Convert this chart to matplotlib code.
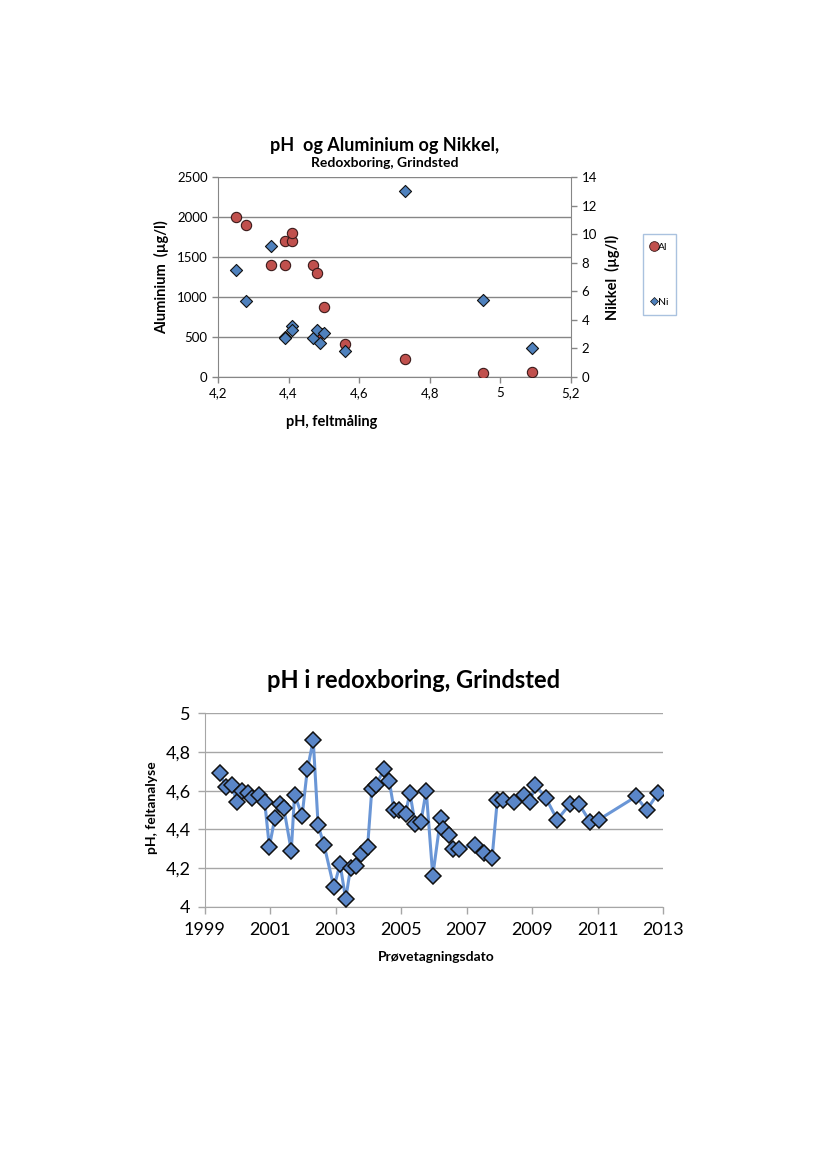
import pandas as pd
import matplotlib
matplotlib.use("Agg")
import matplotlib.pyplot as plt
from matplotlib.ticker import FuncFormatter, MultipleLocator
from matplotlib.lines import Line2D

plt.rcParams['font.family'] = ['Lato', 'DejaVu Sans']

# --- top chart data: pH vs Al / Ni ---
al_ph = [4.25, 4.28, 4.35, 4.39, 4.39, 4.41, 4.41, 4.47, 4.48, 4.49, 4.50, 4.56, 4.73, 4.95, 5.09]
al_val = [2000, 1900, 1400, 1700, 1400, 1700, 1800, 1400, 1300, 550, 870, 410, 230, 50, 60]

ni_ph = [4.25, 4.28, 4.35, 4.39, 4.39, 4.41, 4.41, 4.47, 4.48, 4.49, 4.50, 4.56, 4.73, 4.95, 5.09]
ni_val = [7.5, 5.3, 9.2, 2.8, 2.75, 3.6, 3.3, 2.7, 3.3, 2.4, 3.1, 1.85, 13.0, 5.4, 2.0]

# --- bottom chart data: pH over time ---
dates = [1999.47, 1999.65, 1999.83, 1999.99, 2000.14, 2000.32, 2000.46, 2000.65, 2000.84, 2000.98,
         2001.15, 2001.30, 2001.42, 2001.65, 2001.75, 2001.98, 2002.14, 2002.32, 2002.47, 2002.65,
         2002.95, 2003.14, 2003.31, 2003.46, 2003.63, 2003.78, 2003.98, 2004.11, 2004.24, 2004.48,
         2004.64, 2004.79, 2004.95, 2005.14, 2005.27, 2005.43, 2005.61, 2005.77, 2005.97, 2006.21,
         2006.29, 2006.47, 2006.60, 2006.78, 2007.27, 2007.54, 2007.78, 2007.94, 2008.12, 2008.45,
         2008.77, 2008.94, 2009.10, 2009.43, 2009.77, 2010.16, 2010.44, 2010.77, 2011.04, 2012.18,
         2012.50, 2012.86]
ph = [4.69, 4.62, 4.63, 4.54, 4.60, 4.59, 4.56, 4.58, 4.54, 4.31,
      4.46, 4.53, 4.51, 4.29, 4.58, 4.47, 4.71, 4.86, 4.42, 4.32,
      4.10, 4.22, 4.04, 4.20, 4.21, 4.27, 4.31, 4.61, 4.63, 4.71,
      4.65, 4.50, 4.50, 4.48, 4.59, 4.43, 4.44, 4.60, 4.16, 4.46,
      4.40, 4.37, 4.30, 4.30, 4.32, 4.28, 4.25, 4.55, 4.55, 4.54,
      4.58, 4.54, 4.63, 4.56, 4.45, 4.53, 4.53, 4.44, 4.45, 4.57,
      4.50, 4.59]
year_ticks = [1999, 2001, 2003, 2005, 2007, 2009, 2011, 2013]

comma = FuncFormatter(lambda v, p: ('%g' % v).replace('.', ','))

fig = plt.figure(figsize=(8.27, 11.69), dpi=100)

# ---------------- top chart ----------------
ax = fig.add_axes([218/827, 1-377/1169, 353/827, 200/1169])
ax2 = ax.twinx()

ax.set_xlim(4.2, 5.2)
ax.set_ylim(0, 2500)
ax2.set_ylim(0, 14)
ax.xaxis.set_major_locator(MultipleLocator(0.2))
ax.yaxis.set_major_locator(MultipleLocator(500))
ax2.yaxis.set_major_locator(MultipleLocator(2))
ax.xaxis.set_major_formatter(comma)
ax.grid(axis='y', color='#868686', linewidth=1)
ax.set_axisbelow(True)

for a in (ax, ax2):
    a.spines['top'].set_visible(False)
    a.tick_params(labelsize=9.5, length=4, color='#868686', width=1)
ax.spines['left'].set_color('#868686')
ax.spines['bottom'].set_color('#868686')
ax2.spines['right'].set_color('#868686')
ax.spines['right'].set_visible(False)
ax2.spines['left'].set_visible(False)
ax2.spines['bottom'].set_visible(False)

ax.scatter(al_ph, al_val, s=55, marker='o', color='#C0504D', edgecolor='#3a1a1a', linewidth=0.8, zorder=3)
ax2.scatter(ni_ph, ni_val, s=38, marker='D', color='#4F81BD', edgecolor='#111111', linewidth=0.8, zorder=4)

fig.text(385/827, 1-145/1169, 'pH  og Aluminium og Nikkel,', ha='center', va='center',
         fontsize=13, fontweight='bold')
fig.text(385/827, 1-163/1169, 'Redoxboring, Grindsted', ha='center', va='center',
         fontsize=10, fontweight='bold')
fig.text(332/827, 1-422/1169, 'pH, feltmåling', ha='center', va='center', fontsize=10.5, fontweight='bold')
fig.text(162/827, 1-277/1169, 'Aluminium  (µg/l)', ha='center', va='center', rotation=90,
         fontsize=10.5, fontweight='bold')
fig.text(612/827, 1-277/1169, 'Nikkel  (µg/l)', ha='center', va='center', rotation=90,
         fontsize=10.5, fontweight='bold')

handles = [Line2D([], [], marker='o', linestyle='none', markersize=7, color='#C0504D',
                  markeredgecolor='#3a1a1a', markeredgewidth=0.6),
           Line2D([], [], marker='D', linestyle='none', markersize=4.5, color='#4F81BD',
                  markeredgecolor='#111111', markeredgewidth=0.5)]
leg = fig.legend(handles, ['Al', 'Ni'], loc='upper left',
                 bbox_to_anchor=(643/827, 1-234/1169), fontsize=7.5, frameon=True,
                 fancybox=False, handlelength=0.5, handletextpad=0.1, labelspacing=4.4,
                 borderpad=0.8, borderaxespad=0)
leg.get_frame().set_edgecolor('#95B3D7')
leg.get_frame().set_linewidth(1)

# ---------------- bottom chart ----------------
bx = fig.add_axes([204.5/827, 1-906.7/1169, 458.5/827, 193.4/1169])
bx.plot(dates, ph, color='#6A96D6', linewidth=2.2, marker='D', markersize=8,
        markerfacecolor='#5A86C8', markeredgecolor='#111111', markeredgewidth=1.1, zorder=3)
bx.set_xlim(1999, 2013)
bx.set_ylim(4, 5)
bx.set_xticks(year_ticks)
bx.yaxis.set_major_locator(MultipleLocator(0.2))
bx.yaxis.set_major_formatter(comma)
bx.grid(axis='y', color='#A6A6A6', linewidth=1)
bx.set_axisbelow(True)
bx.spines['top'].set_visible(False)
bx.spines['right'].set_visible(False)
bx.spines['left'].set_color('#A6A6A6')
bx.spines['bottom'].set_color('#A6A6A6')
bx.tick_params(labelsize=13, length=5, color='#A6A6A6', width=1, pad=6)
bx.tick_params(axis='y', pad=5)

fig.text(414/827, 1-680/1169, 'pH i redoxboring, Grindsted', ha='center', va='center',
         fontsize=17, fontweight='bold')
fig.text(436/827, 1-957/1169, 'Prøvetagningsdato', ha='center', va='center',
         fontsize=10, fontweight='bold')
fig.text(152/827, 1-808/1169, 'pH, feltanalyse', ha='center', va='center', rotation=90,
         fontsize=10, fontweight='bold')

fig.savefig('out.png', dpi=100)
